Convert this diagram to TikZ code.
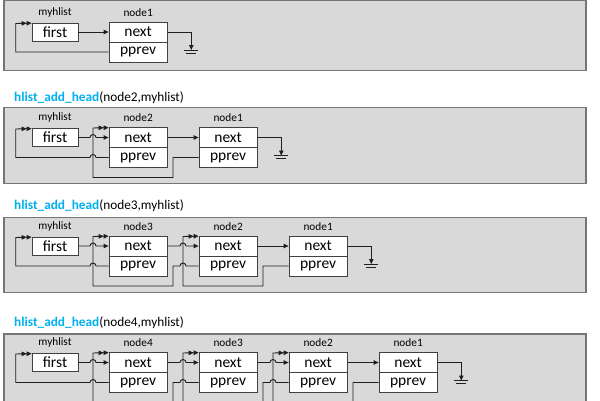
\documentclass[tikz,border=0pt]{standalone}
\usepackage{fontspec}
\setmainfont{Carlito}
\usetikzlibrary{arrows.meta,calc}
\definecolor{panelfill}{HTML}{D9D9D9}
\definecolor{panelline}{HTML}{767676}
\definecolor{boxline}{HTML}{404040}
\definecolor{wirecol}{HTML}{1F1F1F}
\definecolor{titlecyan}{HTML}{00B0F0}
\begin{document}
\begin{tikzpicture}[x=1pt,y=-1pt,
  panel/.style={draw=panelline,fill=panelfill,line width=1.4pt},
  field/.style={draw=boxline,fill=white,line width=0.8pt,minimum width=58.3pt,minimum height=20pt,inner sep=0pt,font=\fontsize{15.5}{17}\selectfont},
  firstbox/.style={field,minimum width=46pt,minimum height=18pt},
  lbl/.style={font=\fontsize{11.3}{13}\selectfont,inner sep=0pt},
  ttl/.style={font=\fontsize{13.3}{15}\selectfont,inner sep=0pt,anchor=west},
  wire/.style={draw=wirecol,line width=0.9pt},
  arr/.style={-{Triangle[length=5pt,width=4.5pt]}},
  darr/.style={-{Triangle[length=5pt,width=4.5pt]Triangle[length=5pt,width=4.5pt]}},
  gline/.style={draw=wirecol,line width=0.9pt}
]
\useasboundingbox (0,0) rectangle (600,400);
\clip (0,0) rectangle (600,400);
\fill[white] (0,0) rectangle (600,400);

% ---------------- Panel 1 ----------------
\draw[panel] (4,0.5) rectangle (586,70.5);
\node[lbl] (p1lab) at (55,12) {myhlist};
\node[firstbox] (p1first) at (55,32) {first};
\node[field] (p1nx0) at (138.15,32) {next};
\node[field] (p1pv0) at (138.15,52) {pprev};
\node[lbl] (p1nl0) at (138.15,12.5) {node1};
\draw[wire,arr] (p1first.east) -- (p1nx0.west);
\draw[wire,darr] (p1pv0.west) -- (15.7,52) -- (15.7,23.5) -- ([yshift=-0.5pt]p1first.north west);
\draw[wire,arr] (p1nx0.east) -- (191.3,32) -- (191.3,50) coordinate (p1g);
\draw[gline] ([xshift=-7pt]p1g) -- ([xshift=7pt]p1g);
\draw[gline] ($(p1g)+(-5,3.3)$) -- ($(p1g)+(5,3.3)$);

% ---------------- Panel 2 ----------------
\node[ttl] (t2) at (14,97.5) {\textcolor{titlecyan}{\textbf{hlist\_add\_head}}(node2,myhlist)};
\draw[panel] (4,107.7) rectangle (586,183.7);
\node[lbl] (p2lab) at (55,117.5) {myhlist};
\node[firstbox] (p2first) at (55,137.5) {first};
\node[field] (p2nx0) at (138.15,137.5) {next};
\node[field] (p2pv0) at (138.15,157.5) {pprev};
\node[lbl] (p2nl0) at (138.15,117.5) {node2};
\node[field] (p2nx1) at (228.15,137.5) {next};
\node[field] (p2pv1) at (228.15,157.5) {pprev};
\node[lbl] (p2nl1) at (228.15,117.5) {node1};
\draw[wire,arr] (p2first.east) -- (90,137.5) arc[start angle=180,end angle=0,radius=3pt] -- (p2nx0.west);
\draw[wire,darr] (p2pv0.west) -- (96,157.5) arc[start angle=0,end angle=180,radius=3pt] -- (15.7,157.5) -- (15.7,129) -- ([yshift=-0.5pt]p2first.north west);
\draw[wire,arr] (p2nx0.east) -- (p2nx1.west);
\draw[wire,darr] (p2pv1.west) -- (173,157.5) -- (173,177.5) -- (93,177.5) -- (93,128) -- ([yshift=-0.5pt]p2nx0.north west);
\draw[wire,arr] (p2nx1.east) -- (281.3,137.5) -- (281.3,155.5) coordinate (p2g);
\draw[gline] ([xshift=-7pt]p2g) -- ([xshift=7pt]p2g);
\draw[gline] ($(p2g)+(-5,3.3)$) -- ($(p2g)+(5,3.3)$);

% ---------------- Panel 3 ----------------
\node[ttl] (t3) at (14,205.5) {\textcolor{titlecyan}{\textbf{hlist\_add\_head}}(node3,myhlist)};
\draw[panel] (4,217.5) rectangle (586,292.7);
\node[lbl] (p3lab) at (55,226) {myhlist};
\node[firstbox] (p3first) at (55,246) {first};
\node[field] (p3nx0) at (138.15,246) {next};
\node[field] (p3pv0) at (138.15,266) {pprev};
\node[lbl] (p3nl0) at (138.15,226.5) {node3};
\node[field] (p3nx1) at (228.15,246) {next};
\node[field] (p3pv1) at (228.15,266) {pprev};
\node[lbl] (p3nl1) at (228.15,226.5) {node2};
\node[field] (p3nx2) at (318.15,246) {next};
\node[field] (p3pv2) at (318.15,266) {pprev};
\node[lbl] (p3nl2) at (318.15,226.5) {node1};
\draw[wire,arr] (p3first.east) -- (90,246) arc[start angle=180,end angle=0,radius=3pt] -- (p3nx0.west);
\draw[wire,darr] (p3pv0.west) -- (96,266) arc[start angle=0,end angle=180,radius=3pt] -- (15.7,266) -- (15.7,237.5) -- ([yshift=-0.5pt]p3first.north west);
\draw[wire,arr] (p3nx0.east) -- (180,246) arc[start angle=180,end angle=0,radius=3pt] -- (p3nx1.west);
\draw[wire,arr] (p3nx1.east) -- (p3nx2.west);
\draw[wire,darr] (p3pv1.west) -- (186,266) arc[start angle=0,end angle=180,radius=3pt] -- (173,266) -- (173,286) -- (93,286) -- (93,236.5) -- ([yshift=-0.5pt]p3nx0.north west);
\draw[wire,darr] (p3pv2.west) -- (263,266) -- (263,286) -- (183,286) -- (183,236.5) -- ([yshift=-0.5pt]p3nx1.north west);
\draw[wire,arr] (p3nx2.east) -- (371.3,246) -- (371.3,264) coordinate (p3g);
\draw[gline] ([xshift=-7pt]p3g) -- ([xshift=7pt]p3g);
\draw[gline] ($(p3g)+(-5,3.3)$) -- ($(p3g)+(5,3.3)$);

% ---------------- Panel 4 ----------------
\node[ttl] (t4) at (14,322.7) {\textcolor{titlecyan}{\textbf{hlist\_add\_head}}(node4,myhlist)};
\draw[panel] (4,334) rectangle (586,420);
\node[lbl] (p4lab) at (55,342.5) {myhlist};
\node[firstbox] (p4first) at (55,362.5) {first};
\node[field] (p4nx0) at (138.15,362.5) {next};
\node[field] (p4pv0) at (138.15,382.5) {pprev};
\node[lbl] (p4nl0) at (138.15,343) {node4};
\node[field] (p4nx1) at (228.15,362.5) {next};
\node[field] (p4pv1) at (228.15,382.5) {pprev};
\node[lbl] (p4nl1) at (228.15,343) {node3};
\node[field] (p4nx2) at (318.15,362.5) {next};
\node[field] (p4pv2) at (318.15,382.5) {pprev};
\node[lbl] (p4nl2) at (318.15,343) {node2};
\node[field] (p4nx3) at (408.15,362.5) {next};
\node[field] (p4pv3) at (408.15,382.5) {pprev};
\node[lbl] (p4nl3) at (408.15,343) {node1};
\draw[wire,arr] (p4first.east) -- (90,362.5) arc[start angle=180,end angle=0,radius=3pt] -- (p4nx0.west);
\draw[wire,darr] (p4pv0.west) -- (96,382.5) arc[start angle=0,end angle=180,radius=3pt] -- (15.7,382.5) -- (15.7,354) -- ([yshift=-0.5pt]p4first.north west);
\draw[wire,arr] (p4nx0.east) -- (180,362.5) arc[start angle=180,end angle=0,radius=3pt] -- (p4nx1.west);
\draw[wire,arr] (p4nx1.east) -- (270,362.5) arc[start angle=180,end angle=0,radius=3pt] -- (p4nx2.west);
\draw[wire,arr] (p4nx2.east) -- (p4nx3.west);
\draw[wire,darr] (p4pv1.west) -- (186,382.5) arc[start angle=0,end angle=180,radius=3pt] -- (173,382.5) -- (173,402.5) -- (93,402.5) -- (93,353) -- ([yshift=-0.5pt]p4nx0.north west);
\draw[wire,darr] (p4pv2.west) -- (276,382.5) arc[start angle=0,end angle=180,radius=3pt] -- (263,382.5) -- (263,402.5) -- (183,402.5) -- (183,353) -- ([yshift=-0.5pt]p4nx1.north west);
\draw[wire,darr] (p4pv3.west) -- (353,382.5) -- (353,402.5) -- (273,402.5) -- (273,353) -- ([yshift=-0.5pt]p4nx2.north west);
\draw[wire,arr] (p4nx3.east) -- (461.3,362.5) -- (461.3,380.5) coordinate (p4g);
\draw[gline] ([xshift=-7pt]p4g) -- ([xshift=7pt]p4g);
\draw[gline] ($(p4g)+(-5,3.3)$) -- ($(p4g)+(5,3.3)$);
\end{tikzpicture}
\end{document}
